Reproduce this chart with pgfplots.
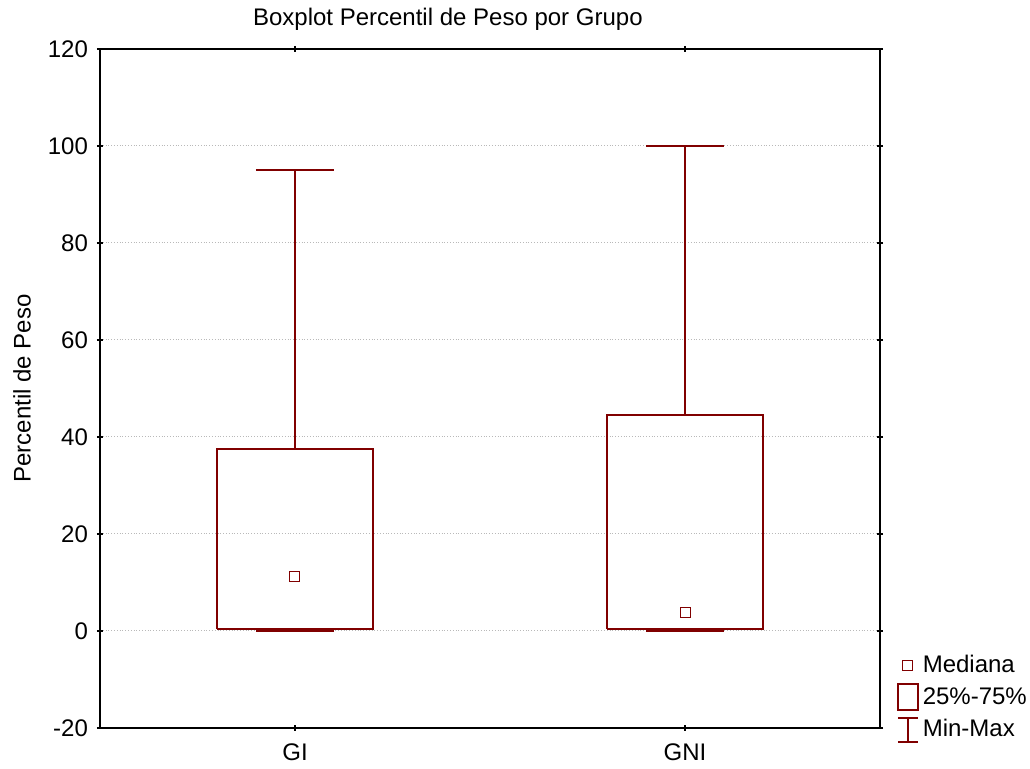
\documentclass[border=0pt]{standalone}
\usepackage{fontspec}
\setmainfont{Liberation Sans}
\usepackage{pgfplots}
\pgfplotsset{compat=1.18}
\definecolor{dred}{RGB}{128,0,0}
\begin{document}
\begin{tikzpicture}[font=\fontsize{12}{14}\selectfont]
\useasboundingbox (0,0) rectangle (515pt,384.5pt);
\begin{axis}[
  at={(50pt,20.5pt)}, anchor=south west,
  scale only axis, width=390pt, height=339.5pt,
  xmin=0.5, xmax=2.5, ymin=-20, ymax=120,
  xtick={1,2}, xticklabels={GI,GNI},
  ytick={-20,0,20,40,60,80,100,120},
  tick align=center, major tick length=3pt,
  tick style={black, line width=0.8pt},
  ymajorgrids, grid style={densely dotted, gray!55, line width=0.5pt},
  axis line style={line width=1pt},
  /pgf/number format/assume math mode=true,
  xticklabel style={yshift=-3pt},
  yticklabel style={xshift=-1pt},
  title={Boxplot Percentil de Peso por Grupo},
  title style={at={(0.446,1)}, anchor=base, yshift=5.5pt},
  ylabel={Percentil de Peso},
  ylabel style={at={(axis description cs:-0.1,0.5)}, anchor=center},
  legend style={draw=none, fill=none, at={(1.021,-0.024)}, anchor=south west,
    row sep=2pt, inner sep=0pt, legend cell align=left,
    font=\fontsize{12}{14}\selectfont},
]
% GI: min 0, Q1 0.5, median 11.3, Q3 37.5, max 95
\addplot[dred, line width=1pt, forget plot] coordinates {(0.8,0.5) (1.2,0.5) (1.2,37.5) (0.8,37.5) (0.8,0.5)};
\addplot[dred, line width=1pt, forget plot] coordinates {(1,37.5) (1,95)};
\addplot[dred, line width=1pt, forget plot] coordinates {(0.9,95) (1.1,95)};
\addplot[dred, line width=1pt, forget plot] coordinates {(1,0.5) (1,0)};
\addplot[dred, line width=1pt, forget plot] coordinates {(0.9,0) (1.1,0)};
% GNI: min 0, Q1 0.4, median 3.8, Q3 44.5, max 100
\addplot[dred, line width=1pt, forget plot] coordinates {(1.8,0.4) (2.2,0.4) (2.2,44.5) (1.8,44.5) (1.8,0.4)};
\addplot[dred, line width=1pt, forget plot] coordinates {(2,44.5) (2,100)};
\addplot[dred, line width=1pt, forget plot] coordinates {(1.9,100) (2.1,100)};
\addplot[dred, line width=1pt, forget plot] coordinates {(2,0.4) (2,0)};
\addplot[dred, line width=1pt, forget plot] coordinates {(1.9,0) (2.1,0)};
% medians
\addplot[only marks, mark=square, mark size=2.5pt, dred,
  mark options={line width=0.5pt, solid}, forget plot]
  coordinates {(1,11.3) (2,3.8)};
\addlegendimage{legend image code/.code={\draw[dred, line width=0.5pt] (2.6pt,-2.4pt) rectangle (7.4pt,2.4pt);}}
\addlegendentry{Mediana}
\addlegendimage{legend image code/.code={\draw[dred, line width=1pt] (0pt,-6.5pt) rectangle (10pt,6.5pt);}}
\addlegendentry{25\%-75\%}
\addlegendimage{legend image code/.code={\draw[dred, line width=1pt] (5pt,-6pt) -- (5pt,6pt) (0pt,6pt) -- (10pt,6pt) (0pt,-6pt) -- (10pt,-6pt);}}
\addlegendentry{Min-Max}
\end{axis}
\end{tikzpicture}
\end{document}
